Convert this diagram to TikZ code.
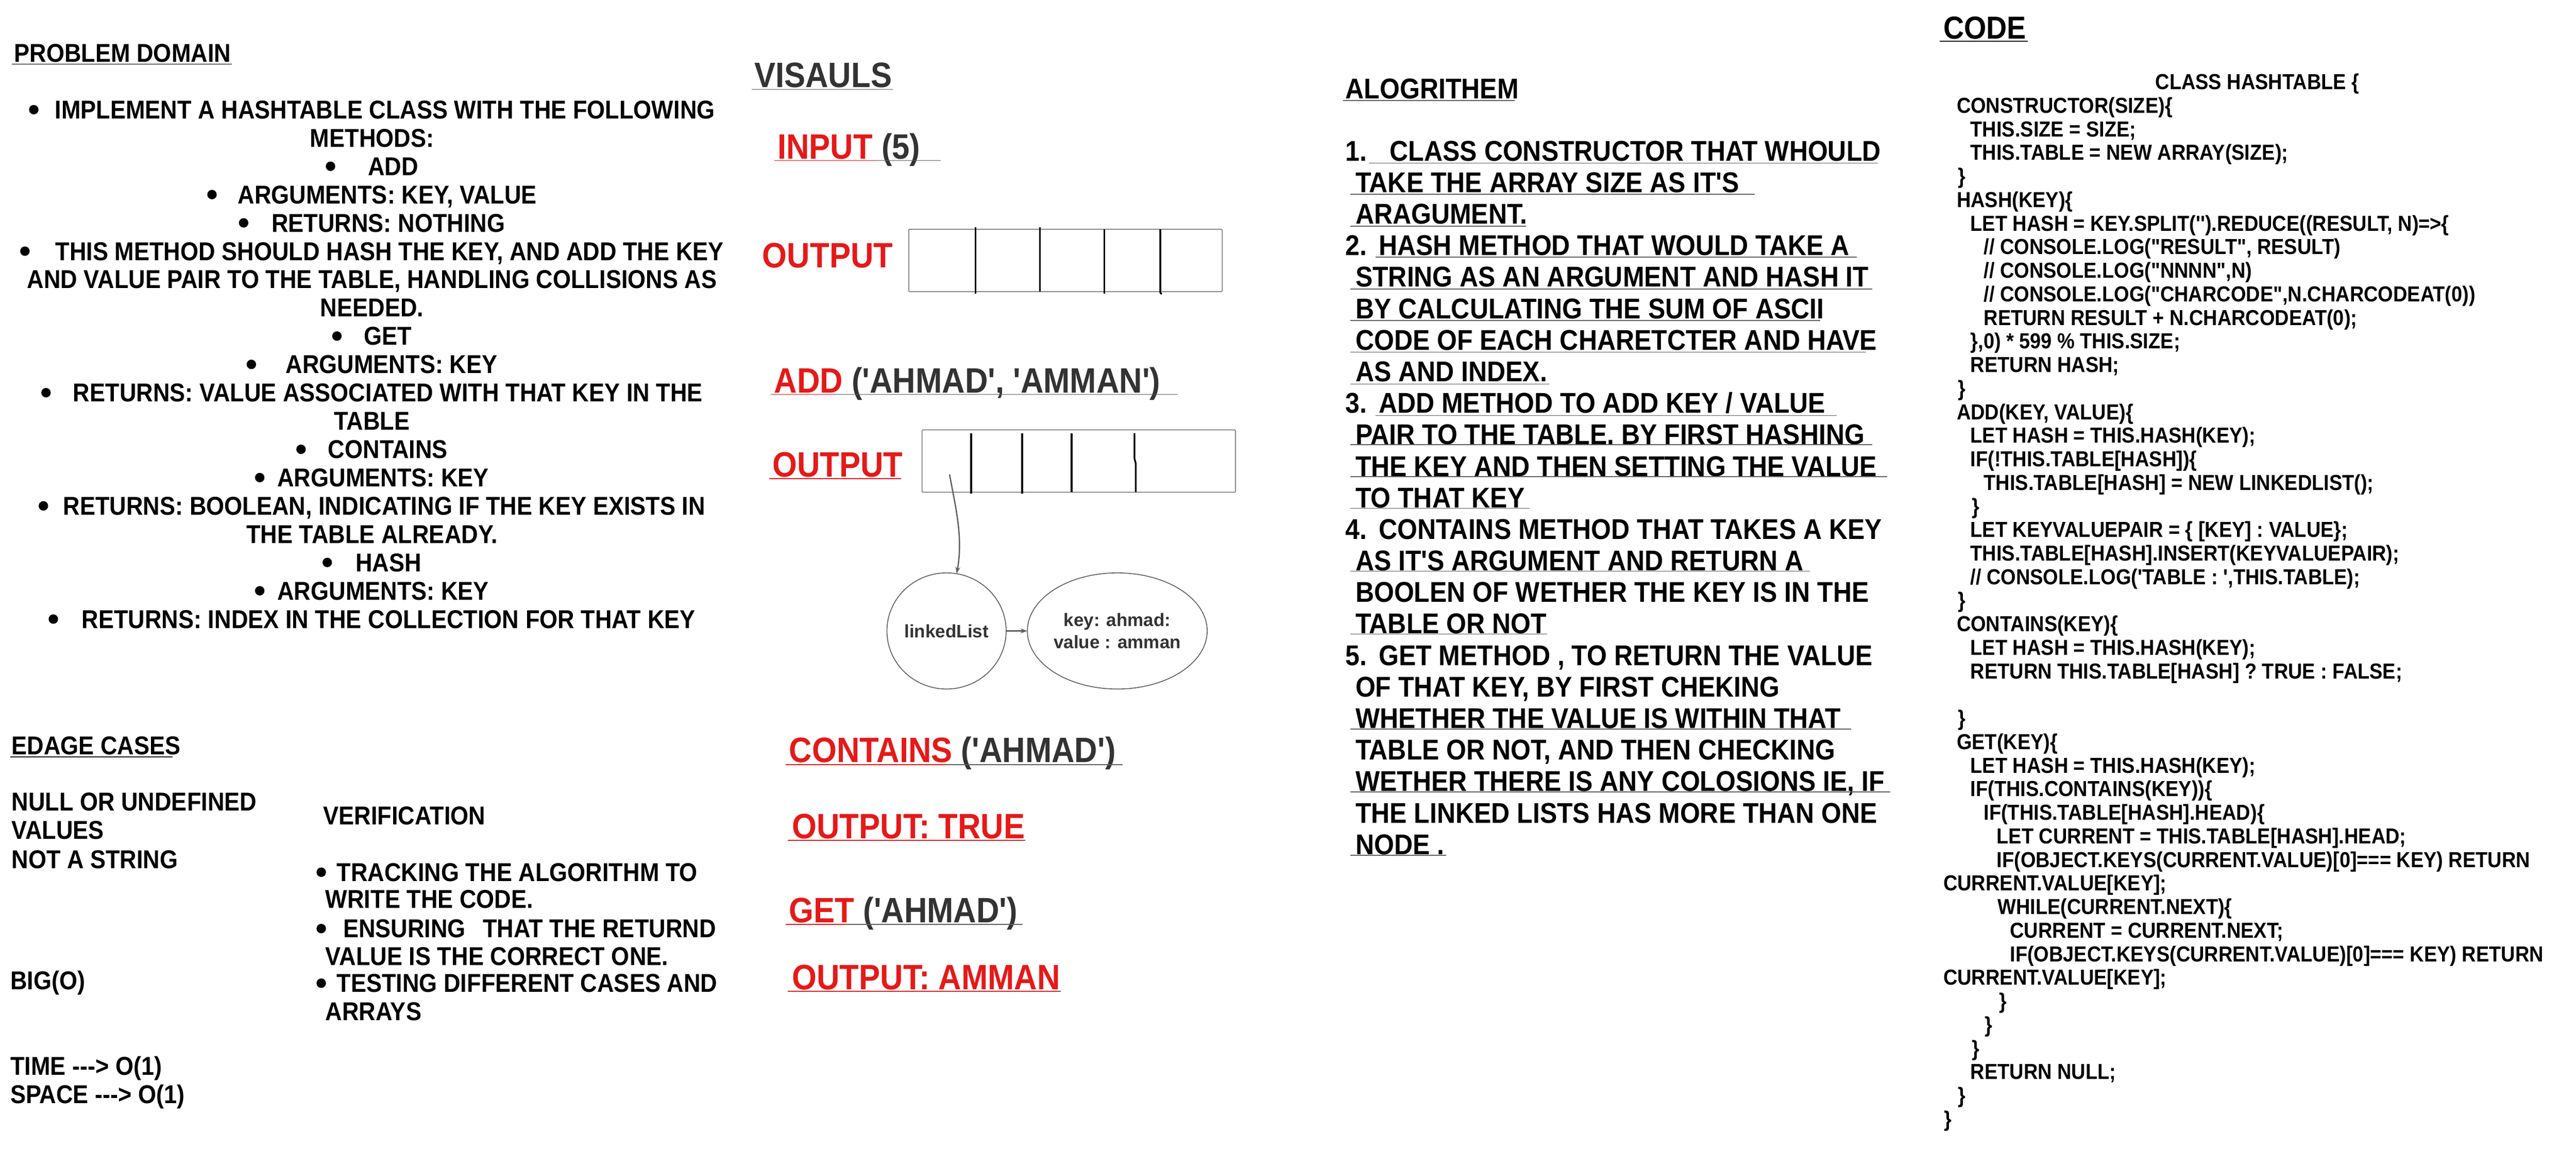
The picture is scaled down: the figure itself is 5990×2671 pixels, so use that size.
\documentclass[tikz,border=0pt]{standalone}
\usepackage{fontspec}
\newfontfamily\hand{Liberation Sans}[FakeStretch=0.9]
\newfontfamily\arialf{Liberation Sans}
\usetikzlibrary{arrows.meta,shapes.geometric}
\definecolor{hred}{RGB}{230,25,25}
\definecolor{hgray}{RGB}{51,51,51}
\definecolor{lgray}{RGB}{95,95,95}
\definecolor{bgray}{RGB}{140,140,140}
\newcommand\bul{\tikz[baseline=0pt]\fill[black] (0pt,21pt) circle[radius=11pt];}
\newcommand\pdline[2]{\node[pd] (pd#1) at (865,{276+65.8*(#1-1)}) {#2};}
\newcommand\cdline[3]{\node[cd] (cd#1) at (#2,{208+54.8*(#1-1)}) {#3};}
\newcommand\alline[3]{\node[al] (al#1) at (#2,{374+73.3*(#1-1)}) {#3};}
\newcommand\alnum[2]{\node[al] (an#1) at (3129,{374+73.3*(#1-1)}) {#2};}
\begin{document}
\begin{tikzpicture}[x=1pt,y=-1pt,
  every node/.style={inner sep=0pt, outer sep=0pt},
  pd/.style={font=\hand\bfseries\fontsize{60}{66}\selectfont, anchor=base},
  lt/.style={font=\hand\bfseries\fontsize{60}{66}\selectfont, anchor=base west},
  al/.style={font=\hand\bfseries\fontsize{66.5}{72}\selectfont, anchor=base west},
  cd/.style={font=\hand\bfseries\fontsize{50.5}{54}\selectfont, anchor=base west},
  vis/.style={font=\hand\bfseries\fontsize{82}{88}\selectfont, anchor=base west, text=hgray},
  ul/.style={line width=2pt, draw=lgray},
  ulb/.style={line width=2pt, draw=black},
  ulr/.style={line width=2pt, draw=hred},
  cellbox/.style={draw=bgray, line width=2.5pt, rounded corners=2pt, minimum width=729pt, minimum height=145pt},
  divl/.style={line width=4pt, draw=black},
  ell/.style={draw=lgray, line width=2pt, ellipse, align=center, text=hgray,
     font=\arialf\bfseries\fontsize{42}{51}\selectfont},
  conn/.style={draw=lgray, line width=3pt, -{Stealth[length=16pt,width=11pt]}}
]
\fill[white] (0,0) rectangle (5990,2671);
\useasboundingbox (0,0) rectangle (5990,2671);

% ---------------- PROBLEM DOMAIN ----------------
\node[lt] (pdh) at (33,144) {PROBLEM DOMAIN};
\draw[ulb] (27,149) -- (539,149);
\pdline{1}{\bul\hspace{38pt}IMPLEMENT A HASHTABLE CLASS WITH THE FOLLOWING}
\pdline{2}{METHODS:}
\pdline{3}{\bul\hspace{76pt}ADD}
\pdline{4}{\bul\hspace{49pt}ARGUMENTS: KEY, VALUE}
\pdline{5}{\bul\hspace{54pt}RETURNS: NOTHING}
\pdline{6}{\bul\hspace{60pt}THIS METHOD SHOULD HASH THE KEY, AND ADD THE KEY}
\pdline{7}{AND VALUE PAIR TO THE TABLE, HANDLING COLLISIONS AS}
\pdline{8}{NEEDED.}
\pdline{9}{\bul\hspace{52pt}GET}
\pdline{10}{\bul\hspace{69pt}ARGUMENTS: KEY}
\pdline{11}{\bul\hspace{52pt}RETURNS: VALUE ASSOCIATED WITH THAT KEY IN THE}
\pdline{12}{TABLE}
\pdline{13}{\bul\hspace{52pt}CONTAINS}
\pdline{14}{\bul\hspace{30pt}ARGUMENTS: KEY}
\pdline{15}{\bul\hspace{35pt}RETURNS: BOOLEAN, INDICATING IF THE KEY EXISTS IN}
\pdline{16}{THE TABLE ALREADY.}
\pdline{17}{\bul\hspace{55pt}HASH}
\pdline{18}{\bul\hspace{30pt}ARGUMENTS: KEY}
\pdline{19}{\bul\hspace{55pt}RETURNS: INDEX IN THE COLLECTION FOR THAT KEY}

% ---------------- EDGE CASES ----------------
\node[lt] (ech) at (27,1755) {EDAGE CASES};
\draw[ulb] (24,1760) -- (401,1760);
\node[lt] (ec1) at (27,1885) {NULL OR UNDEFINED};
\node[lt] (ec2) at (27,1951) {VALUES};
\node[lt] (ec3) at (27,2019) {NOT A STRING};
\node[lt] (big) at (24,2301) {BIG(O)};
\node[lt] (tim) at (24,2500) {TIME ---> O(1)};
\node[lt] (spc) at (24,2566) {SPACE ---> O(1)};
\node[lt] (ver) at (752,1917) {VERIFICATION};
\node[lt] (v1) at (736,2049) {\bul\hspace{25pt}TRACKING THE ALGORITHM TO};
\node[lt] (v2) at (757,2111) {WRITE THE CODE.};
\node[lt] (v3) at (736,2180) {\bul\hspace{40pt}ENSURING\hspace{40pt}THAT THE RETURND};
\node[lt] (v4) at (757,2245) {VALUE IS THE CORRECT ONE.};
\node[lt] (v5) at (736,2307) {\bul\hspace{25pt}TESTING DIFFERENT CASES AND};
\node[lt] (v6) at (757,2373) {ARRAYS};

% ---------------- VISUALS ----------------
\node[vis] (vish) at (1754,203) {VISAULS};
\draw[ul] (1748,208) -- (2076,208);
\node[vis] (inp) at (1808,369) {\textcolor{hred}{INPUT} (5)};
\draw[ulr] (1801,373) -- (2038,373);
\draw[ul] (2038,373) -- (2188,373);
\node[vis, text=hred] (out1) at (1773,622) {OUTPUT};
\node[cellbox] (arr1) at (2477.5,605.5) {};
\draw[divl] (2268,528) -- (2268,683);
\draw[divl] (2418,528) -- (2418,678);
\draw[divl] (2568,533) -- (2568,683);
\draw[divl] (2698,533) -- (2698,680) -- (2701,684);

\node[vis] (addl) at (1800,914) {\textcolor{hred}{ADD} ('AHMAD', 'AMMAN')};
\draw[ulr] (1792,917) -- (1942,917);
\draw[ul] (1942,917) -- (2738,917);
\node[vis, text=hred] (out2) at (1796,1109) {OUTPUT};
\draw[ulr] (1788,1113) -- (2095,1113);
\node[cellbox] (arr2) at (2508.5,1072) {};
\draw[divl] (2258,1007) -- (2258,1148);
\draw[divl] (2377,1007) -- (2377,1148);
\draw[divl] (2492,1007) -- (2492,1144);
\draw[divl] (2638,1007) -- (2638,1066) -- (2641,1078) -- (2641,1144);

\node[ell, minimum width=226pt, minimum height=270pt] (ll) at (2201,1467) {linkedList};
\node[ell, minimum width=360pt, minimum height=270pt] (kv) at (2598,1467) {key: ahmad:\\value : amman};
\coordinate (cst) at (2208,1103);
\draw[conn] (cst) .. controls (2222,1180) and (2240,1250) .. (ll.80);
\draw[conn] (ll.east) -- (kv.west);

\node[vis] (cont) at (1835,1773) {\textcolor{hred}{CONTAINS} ('AHMAD')};
\draw[ulr] (1827,1778) -- (2200,1778);
\draw[ul] (2200,1778) -- (2611,1778);
\node[vis, text=hred] (otr) at (1842,1950) {OUTPUT: TRUE};
\draw[ulr] (1832,1954) -- (2377,1954);
\draw[ul] (2377,1954) -- (2384,1954);
\node[vis] (getl) at (1835,2145) {\textcolor{hred}{GET} ('AHMAD')};
\draw[ulr] (1827,2149) -- (1965,2149);
\draw[ul] (1965,2149) -- (2378,2149);
\node[vis, text=hred] (oam) at (1842,2301) {OUTPUT: AMMAN};
\draw[ulr] (1832,2305) -- (2460,2305);
\draw[ul] (2460,2305) -- (2467,2305);

% ---------------- ALGORITHM ----------------
\node[al] (alh) at (3129,230) {ALOGRITHEM};
\draw[ul] (3123,234) -- (3522,234);
\alnum{1}{1.}
\alline{1}{3232}{CLASS CONSTRUCTOR THAT WHOULD}
\alline{2}{3152}{TAKE THE ARRAY SIZE AS IT'S}
\alline{3}{3152}{ARAGUMENT.}
\alnum{4}{2.}
\alline{4}{3206}{HASH METHOD THAT WOULD TAKE A}
\alline{5}{3152}{STRING AS AN ARGUMENT AND HASH IT}
\alline{6}{3152}{BY CALCULATING THE SUM OF ASCII}
\alline{7}{3152}{CODE OF EACH CHARETCTER AND HAVE}
\alline{8}{3152}{AS AND INDEX.}
\alnum{9}{3.}
\alline{9}{3206}{ADD METHOD TO ADD KEY / VALUE}
\alline{10}{3152}{PAIR TO THE TABLE. BY FIRST HASHING}
\alline{11}{3152}{THE KEY AND THEN SETTING THE VALUE}
\alline{12}{3152}{TO THAT KEY}
\alnum{13}{4.}
\alline{13}{3206}{CONTAINS METHOD THAT TAKES A KEY}
\alline{14}{3152}{AS IT'S ARGUMENT AND RETURN A}
\alline{15}{3152}{BOOLEN OF WETHER THE KEY IS IN THE}
\alline{16}{3152}{TABLE OR NOT}
\alnum{17}{5.}
\alline{17}{3206}{GET METHOD , TO RETURN THE VALUE}
\alline{18}{3152}{OF THAT KEY, BY FIRST CHEKING}
\alline{19}{3152}{WHETHER THE VALUE IS WITHIN THAT}
\alline{20}{3152}{TABLE OR NOT, AND THEN CHECKING}
\alline{21}{3152}{WETHER THERE IS ANY COLOSIONS IE, IF}
\alline{22}{3152}{THE LINKED LISTS HAS MORE THAN ONE}
\alline{23}{3152}{NODE .}
\foreach \yy/\xa/\xb in {379/3183/4367, 452/3140/4080, 526/3140/3549, 598/3199/4318,
  672/3140/4354, 745/3140/4233, 819/3140/4339, 893/3140/3602, 966/3199/4271,
  1034/3140/4354, 1108/3140/4388, 1182/3140/3557, 1328/3140/4208, 1474/3140/3598,
  1695/3140/4304, 1841/3140/4395, 1989/3140/3363}
  \draw[ul] (\xa,\yy) -- (\xb,\yy);

% ---------------- CODE ----------------
\node[vis, text=black, font=\hand\bfseries\fontsize{74}{80}\selectfont] (codeh) at (4519,90) {CODE};
\draw[ulb] (4511,96) -- (4715,96);
\cdline{1}{5012}{CLASS HASHTABLE \{}
\cdline{2}{4550}{CONSTRUCTOR(SIZE)\{}
\cdline{3}{4582}{THIS.SIZE = SIZE;}
\cdline{4}{4582}{THIS.TABLE = NEW ARRAY(SIZE);}
\cdline{5}{4553}{\}}
\cdline{6}{4550}{HASH(KEY)\{}
\cdline{7}{4582}{LET HASH = KEY.SPLIT('').REDUCE((RESULT, N)=>\{}
\cdline{8}{4613}{// CONSOLE.LOG("RESULT", RESULT)}
\cdline{9}{4613}{// CONSOLE.LOG("NNNN",N)}
\cdline{10}{4613}{// CONSOLE.LOG("CHARCODE",N.CHARCODEAT(0))}
\cdline{11}{4613}{RETURN RESULT + N.CHARCODEAT(0);}
\cdline{12}{4582}{\},0) * 599 \% THIS.SIZE;}
\cdline{13}{4582}{RETURN HASH;}
\cdline{14}{4553}{\}}
\cdline{15}{4550}{ADD(KEY, VALUE)\{}
\cdline{16}{4582}{LET HASH = THIS.HASH(KEY);}
\cdline{17}{4582}{IF(!THIS.TABLE[HASH])\{}
\cdline{18}{4613}{THIS.TABLE[HASH] = NEW LINKEDLIST();}
\cdline{19}{4585}{\}}
\cdline{20}{4582}{LET KEYVALUEPAIR = \{ [KEY] : VALUE\};}
\cdline{21}{4582}{THIS.TABLE[HASH].INSERT(KEYVALUEPAIR);}
\cdline{22}{4582}{// CONSOLE.LOG('TABLE : ',THIS.TABLE);}
\cdline{23}{4553}{\}}
\cdline{24}{4550}{CONTAINS(KEY)\{}
\cdline{25}{4582}{LET HASH = THIS.HASH(KEY);}
\cdline{26}{4582}{RETURN THIS.TABLE[HASH] ? TRUE : FALSE;}
\cdline{28}{4553}{\}}
\cdline{29}{4550}{GET(KEY)\{}
\cdline{30}{4582}{LET HASH = THIS.HASH(KEY);}
\cdline{31}{4582}{IF(THIS.CONTAINS(KEY))\{}
\cdline{32}{4613}{IF(THIS.TABLE[HASH].HEAD)\{}
\cdline{33}{4643}{LET CURRENT = THIS.TABLE[HASH].HEAD;}
\cdline{34}{4643}{IF(OBJECT.KEYS(CURRENT.VALUE)[0]=== KEY) RETURN}
\cdline{35}{4519}{CURRENT.VALUE[KEY];}
\cdline{36}{4645}{WHILE(CURRENT.NEXT)\{}
\cdline{37}{4674}{CURRENT = CURRENT.NEXT;}
\cdline{38}{4674}{IF(OBJECT.KEYS(CURRENT.VALUE)[0]=== KEY) RETURN}
\cdline{39}{4519}{CURRENT.VALUE[KEY];}
\cdline{40}{4649}{\}}
\cdline{41}{4615}{\}}
\cdline{42}{4585}{\}}
\cdline{43}{4582}{RETURN NULL;}
\cdline{44}{4553}{\}}
\cdline{45}{4521}{\}}
\end{tikzpicture}
\end{document}
